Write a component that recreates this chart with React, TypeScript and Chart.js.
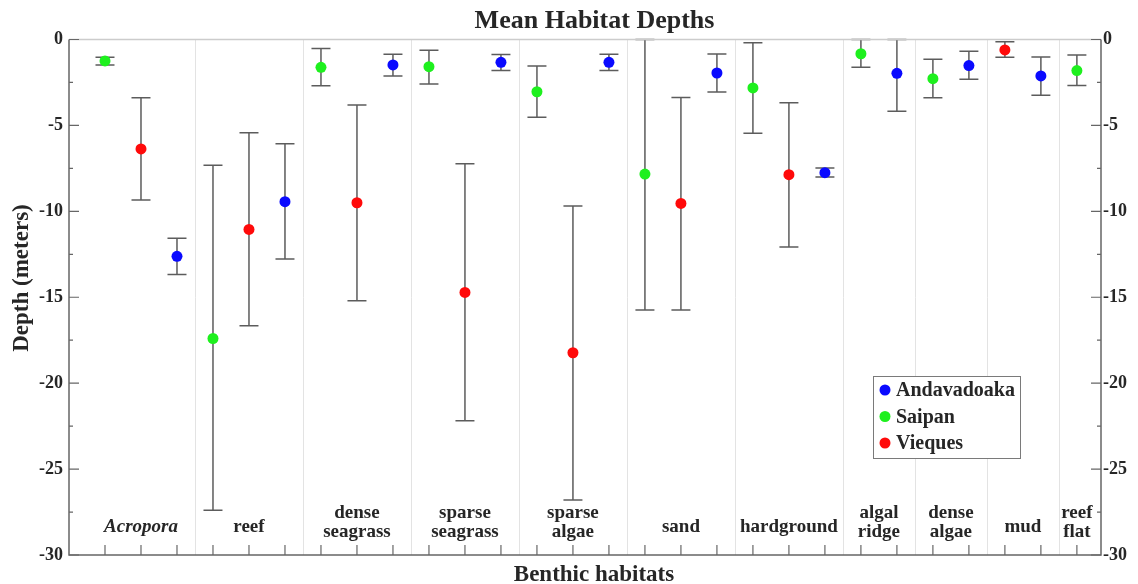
import React, { useEffect, useRef } from "react";
import { Chart, registerables } from "chart.js";

Chart.register(...registerables);

// Benthic habitat classes, in plotting order, with their label lines
const habitats = [
  "Acropora",
  "reef",
  "dense seagrass",
  "sparse seagrass",
  "sparse algae",
  "sand",
  "hardground",
  "algal ridge",
  "dense algae",
  "mud",
  "reef flat",
];
const habitatLabelLines = [
  ["Acropora"],
  ["reef"],
  ["dense", "seagrass"],
  ["sparse", "seagrass"],
  ["sparse", "algae"],
  ["sand"],
  ["hardground"],
  ["algal", "ridge"],
  ["dense", "algae"],
  ["mud"],
  ["reef", "flat"],
];
const italicHabitats = ["Acropora"];

// Mean depth (m) per habitat and site, with the lower / upper ends of the error bar
const saipanMean = [-1.25, -17.4, -1.62, -1.58, -3.04, -7.83, -2.82, -0.83, -2.28, null, -1.81];
const saipanLow = [-1.48, -27.4, -2.69, -2.59, -4.53, -15.74, -5.46, -1.62, -3.39, null, -2.67];
const saipanHigh = [-1.04, -7.32, -0.53, -0.63, -1.54, 0, -0.19, 0, -1.15, null, -0.9];

const viequesMean = [-6.37, -11.05, -9.5, -14.72, -18.23, -9.54, -7.87, null, null, -0.61, null];
const viequesLow = [-9.34, -16.66, -15.2, -22.19, -26.8, -15.74, -12.08, null, null, -1.04, null];
const viequesHigh = [-3.39, -5.42, -3.81, -7.23, -9.69, -3.37, -3.68, null, null, -0.13, null];

const andavadoakaMean = [-12.62, -9.44, -1.48, -1.33, -1.33, -1.95, -7.75, -1.97, -1.52, -2.12, null];
const andavadoakaLow = [-13.67, -12.78, -2.12, -1.81, -1.81, -3.06, -8.0, -4.18, -2.32, -3.25, null];
const andavadoakaHigh = [-11.57, -6.06, -0.86, -0.88, -0.86, -0.84, -7.48, 0, -0.69, -1.02, null];

const yTicks = [0, -5, -10, -15, -20, -25, -30];

// Sites in slot order inside each habitat group
const sites = [
  { name: "Saipan", color: "#1ef01e", mean: saipanMean, low: saipanLow, high: saipanHigh },
  { name: "Vieques", color: "#ff0a0a", mean: viequesMean, low: viequesLow, high: viequesHigh },
  { name: "Andavadoaka", color: "#0a0aff", mean: andavadoakaMean, low: andavadoakaLow, high: andavadoakaHigh },
];
const legendOrder = ["Andavadoaka", "Saipan", "Vieques"];

const SERIF = '"Liberation Serif", "Times New Roman", serif';
const TEXT = "#262626";
const AXIS = "#666666";

// Each present site takes one slot; groups are separated at half slots
function buildLayout() {
  const slots: { site: number; habitat: number; x: number }[] = [];
  const bounds: number[] = [];
  const centers: number[] = [];
  let cursor = 0.5;
  habitats.forEach((_, h) => {
    const xs: number[] = [];
    sites.forEach((s, si) => {
      if (s.mean[h] !== null) {
        const x = cursor + 0.5;
        slots.push({ site: si, habitat: h, x });
        xs.push(x);
        cursor += 1;
      }
    });
    centers.push((xs[0] + xs[xs.length - 1]) / 2);
    bounds.push(cursor);
  });
  return { slots, bounds: bounds.slice(0, -1), centers };
}

export default function App() {
  const ref = useRef<HTMLCanvasElement | null>(null);

  useEffect(() => {
    if (!ref.current) return;
    const { slots, bounds, centers } = buildLayout();

    const datasets = sites.map((s, si) => ({
      label: s.name,
      data: slots
        .filter((p) => p.site === si)
        .map((p) => ({
          x: p.x,
          y: s.mean[p.habitat] as number,
          lo: s.low[p.habitat] as number,
          hi: s.high[p.habitat] as number,
        })),
      backgroundColor: s.color,
      borderWidth: 0,
      pointRadius: 5.5,
      pointHoverRadius: 5.5,
    }));

    const decor = {
      id: "decor",
      beforeDatasetsDraw(chart: any) {
        const { ctx, chartArea: a, scales } = chart;
        const xs = scales.x;
        const ys = scales.y;
        ctx.save();
        // habitat separators
        ctx.strokeStyle = "#e3e3e3";
        ctx.lineWidth = 1;
        bounds.forEach((b) => {
          const px = Math.round(xs.getPixelForValue(b)) + 0.5;
          ctx.beginPath();
          ctx.moveTo(px, a.top);
          ctx.lineTo(px, a.bottom);
          ctx.stroke();
        });
        // error bars
        ctx.strokeStyle = "#5c5c5c";
        ctx.lineWidth = 1.5;
        chart.data.datasets.forEach((ds: any) => {
          ds.data.forEach((p: any) => {
            const px = xs.getPixelForValue(p.x);
            const y1 = ys.getPixelForValue(p.hi);
            const y2 = ys.getPixelForValue(p.lo);
            ctx.beginPath();
            ctx.moveTo(px, y1);
            ctx.lineTo(px, y2);
            ctx.moveTo(px - 9.5, y1);
            ctx.lineTo(px + 9.5, y1);
            ctx.moveTo(px - 9.5, y2);
            ctx.lineTo(px + 9.5, y2);
            ctx.stroke();
          });
        });
        ctx.restore();
      },
      afterDatasetsDraw(chart: any) {
        const { ctx, chartArea: a, scales } = chart;
        const xs = scales.x;
        const ys = scales.y;
        ctx.save();
        // frame
        ctx.lineWidth = 1.5;
        ctx.strokeStyle = "#cccccc";
        ctx.beginPath();
        ctx.moveTo(a.left, a.top);
        ctx.lineTo(a.right, a.top);
        ctx.stroke();
        ctx.strokeStyle = AXIS;
        ctx.beginPath();
        ctx.moveTo(a.left, a.top);
        ctx.lineTo(a.left, a.bottom);
        ctx.lineTo(a.right, a.bottom);
        ctx.lineTo(a.right, a.top);
        ctx.stroke();
        // y ticks (inward), majors every 5, minors every 2.5
        ctx.lineWidth = 1.2;
        for (let v = 0; v >= -30; v -= 2.5) {
          const py = ys.getPixelForValue(v);
          const len = v % 5 === 0 ? 10 : 4;
          ctx.beginPath();
          ctx.moveTo(a.left, py);
          ctx.lineTo(a.left + len, py);
          ctx.moveTo(a.right, py);
          ctx.lineTo(a.right - len, py);
          ctx.stroke();
        }
        // x ticks at each slot (inward)
        slots.forEach((s) => {
          const px = xs.getPixelForValue(s.x);
          ctx.beginPath();
          ctx.moveTo(px, a.bottom);
          ctx.lineTo(px, a.bottom - 10);
          ctx.stroke();
        });
        // habitat labels
        ctx.fillStyle = TEXT;
        ctx.textAlign = "center";
        ctx.textBaseline = "middle";
        habitatLabelLines.forEach((lines, h) => {
          const italic = italicHabitats.includes(habitats[h]);
          ctx.font = `${italic ? "italic " : ""}bold 19px ${SERIF}`;
          const px = xs.getPixelForValue(centers[h]);
          if (lines.length === 1) {
            ctx.fillText(lines[0], px, a.bottom - 28);
          } else {
            ctx.fillText(lines[0], px, a.bottom - 42);
            ctx.fillText(lines[1], px, a.bottom - 23);
          }
        });
        // legend
        const lx = 873.5, ly = 376.5, lw = 147, lh = 82;
        ctx.fillStyle = "#ffffff";
        ctx.fillRect(lx, ly, lw, lh);
        ctx.strokeStyle = "#7a7a7a";
        ctx.lineWidth = 1;
        ctx.strokeRect(lx, ly, lw, lh);
        ctx.font = `bold 20px ${SERIF}`;
        ctx.textAlign = "left";
        legendOrder.forEach((name, i) => {
          const s = sites.find((q) => q.name === name)!;
          const cy = 390 + i * 26.5;
          ctx.fillStyle = s.color;
          ctx.beginPath();
          ctx.arc(885, cy, 5.5, 0, Math.PI * 2);
          ctx.fill();
          ctx.fillStyle = TEXT;
          ctx.fillText(name, 896, cy + 1);
        });
        // titles
        ctx.fillStyle = TEXT;
        ctx.textAlign = "center";
        ctx.textBaseline = "alphabetic";
        ctx.font = `bold 26px ${SERIF}`;
        ctx.fillText("Mean Habitat Depths", 594.5, 28);
        ctx.font = `bold 23px ${SERIF}`;
        ctx.fillText("Benthic habitats", 594, 581);
        ctx.translate(22, 278);
        ctx.rotate(-Math.PI / 2);
        ctx.textBaseline = "middle";
        ctx.fillText("Depth (meters)", 0, 0);
        ctx.restore();
      },
    };

    const tickFont = { family: SERIF, size: 18, weight: "bold" as const };

    const chart = new Chart(ref.current, {
      type: "scatter",
      data: { datasets },
      options: {
        animation: false,
        responsive: false,
        events: [],
        layout: { padding: { top: 39.5, bottom: 29, left: 0, right: 0 } },
        plugins: {
          legend: { display: false },
          title: { display: false },
          tooltip: { enabled: false },
        },
        scales: {
          x: {
            type: "linear",
            display: false,
            min: 0,
            max: 28.67,
          },
          y: {
            type: "linear",
            position: "left",
            min: -30,
            max: 0,
            afterBuildTicks: (scale: any) => {
              scale.ticks = yTicks.map((v) => ({ value: v }));
            },
            afterFit: (scale: any) => {
              scale.width = 69;
            },
            grid: { display: false, drawTicks: false },
            border: { display: false },
            ticks: {
              color: TEXT,
              font: tickFont,
              padding: 6,
              callback: (v: any) => String(v),
            },
          },
          y2: {
            type: "linear",
            position: "right",
            min: -30,
            max: 0,
            afterBuildTicks: (scale: any) => {
              scale.ticks = yTicks.map((v) => ({ value: v }));
            },
            afterFit: (scale: any) => {
              scale.width = 37;
            },
            grid: { display: false, drawTicks: false },
            border: { display: false },
            ticks: {
              color: TEXT,
              font: tickFont,
              padding: 2,
              callback: (v: any) => String(v),
            },
          },
        },
      },
      plugins: [decor],
    });

    return () => chart.destroy();
  }, []);

  return (
    <div style={{ position: "absolute", left: 0, top: 0, width: 1138, height: 584, background: "#fff" }}>
      <canvas ref={ref} width={1138} height={584} style={{ display: "block" }} />
    </div>
  );
}
